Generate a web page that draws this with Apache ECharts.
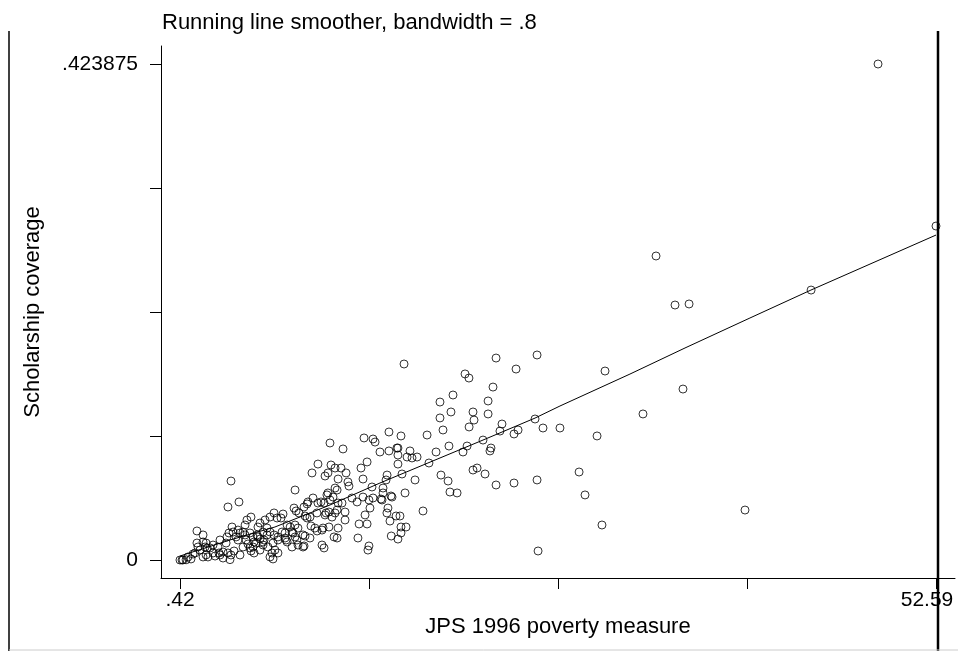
<!DOCTYPE html>
<html>
<head>
<meta charset="utf-8">
<script src="https://cdn.jsdelivr.net/npm/echarts@6/dist/echarts.min.js"></script>
<style>html,body{margin:0;padding:0;background:#fff}#c{width:958px;height:651px}</style>
</head>
<body>
<div id="c"></div>
<script>
// JPS 1996 poverty measure (x) and scholarship coverage (y)
var povertyX = [48.59,52.59,33.27,34.58,35.55,43.97,35.13,32.37,39.41,29.75,29.20,26.64,27.96,28.37,29.54,25.13,25.06,22.23,23.61,15.88,
20.09,20.36,22.02,19.26,18.36,21.68,19.12,18.36,20.64,20.71,21.68,20.37,18.57,22.64,22.50,23.47,23.75,24.92,25.47,17.47,
14.84,15.67,21.33,18.98,20.23,19.95,21.88,21.81,18.09,17.60,18.43,18.92,20.64,20.92,21.47,16.64,15.74,14.71,14.64,15.95,
19.05,19.54,22.23,23.47,25.06,17.19,15.46,15.39,14.84,15.46,16.09,16.29,16.43,16.78,15.46,14.43,14.43,14.36,14.98,15.05,
14.77,14.70,15.33,15.60,14.91,15.67,16.02,15.00,15.67,15.46,10.77,11.67,13.12,13.74,13.88,14.22,3.94,3.73,4.49,8.36,
9.94,9.53,10.84,11.12,11.53,11.88,10.43,10.63,11.33,12.01,12.08,12.91,13.33,13.05,12.29,12.64,13.05,13.46,13.74,14.29,
13.67,13.33,12.78,12.70,13.46,13.39,11.81,11.33,10.36,10.70,10.29,9.46,9.88,10.22,11.05,8.91,8.98,8.22,8.36,8.98,
9.19,9.25,9.60,8.29,8.43,10.15,10.36,10.77,10.98,10.50,10.70,10.43,10.91,9.05,9.19,9.39,7.81,8.02,8.36,8.56,
7.12,6.91,6.63,6.29,7.39,5.94,5.80,6.15,6.43,6.63,6.91,7.18,7.46,7.67,7.74,6.43,6.22,6.15,5.46,5.53,
6.77,6.84,4.56,4.01,4.08,4.42,4.56,4.77,4.91,5.04,5.32,4.91,4.29,4.42,5.25,5.46,5.53,5.67,5.74,5.80,
5.94,4.98,5.11,4.77,5.25,5.32,3.80,3.66,3.60,3.18,3.04,3.39,3.73,2.70,2.49,3.87,3.39,3.11,3.18,1.59,
2.01,1.59,1.66,1.80,1.32,1.46,2.15,2.22,2.35,2.01,2.70,2.84,0.97,1.18,0.84,0.63,0.56,0.42,2.22,2.29,
2.01,3.94,4.15,11.26,11.26,13.53,13.19,11.12,10.63,10.56,9.94,11.33,11.60,11.81,11.12,9.87,8.63,7.53,8.15,9.73,
11.26,9.39,9.05,8.49,8.56,7.67,7.81,7.18,6.84,6.49,6.15,5.94,6.97,7.18,10.22,8.91,6.63,8.15];

var coverageY = [0.423875,0.2854,0.2598,0.2179,0.2188,0.2307,0.1461,0.1248,0.0427,0.1615,0.1060,0.1128,0.0752,0.0556,0.0299,0.0077,0.1752,0.1726,0.1632,0.1675,
0.1590,0.1555,0.1478,0.1410,0.1350,0.1359,0.1265,0.1214,0.1265,0.1196,0.1248,0.1137,0.1111,0.1162,0.1102,0.1077,0.1111,0.1205,0.1128,0.1068,
0.1094,0.1060,0.1025,0.0974,0.0974,0.0923,0.0957,0.0932,0.0923,0.0829,0.0726,0.0675,0.0769,0.0786,0.0735,0.0684,0.0735,0.0726,0.0684,0.0573,
0.0581,0.0573,0.0641,0.0658,0.0684,0.0419,0.0957,0.0957,0.0932,0.0897,0.0880,0.0932,0.0872,0.0880,0.0820,0.0615,0.0573,0.0513,0.0547,0.0538,
0.0444,0.0402,0.0376,0.0376,0.0333,0.0282,0.0282,0.0205,0.0231,0.0179,0.1000,0.0949,0.1043,0.1034,0.1008,0.0923,0.0675,0.0453,0.0496,0.0598,
0.0820,0.0744,0.0812,0.0786,0.0786,0.0744,0.0718,0.0744,0.0692,0.0667,0.0632,0.0786,0.0838,0.0692,0.0530,0.0496,0.0538,0.0513,0.0530,0.0521,
0.0624,0.0308,0.0308,0.0188,0.0120,0.0085,0.0342,0.0273,0.0103,0.0282,0.0273,0.0291,0.0248,0.0256,0.0197,0.0214,0.0120,0.0231,0.0197,0.0453,
0.0479,0.0496,0.0530,0.0444,0.0419,0.0496,0.0487,0.0513,0.0538,0.0402,0.0410,0.0385,0.0367,0.0376,0.0359,0.0367,0.0299,0.0282,0.0299,0.0273,
0.0359,0.0402,0.0367,0.0342,0.0359,0.0316,0.0282,0.0239,0.0273,0.0239,0.0214,0.0197,0.0239,0.0231,0.0171,0.0214,0.0171,0.0154,0.0111,0.0060,
0.0060,0.0009,0.0043,0.0282,0.0239,0.0256,0.0231,0.0239,0.0214,0.0342,0.0367,0.0299,0.0197,0.0171,0.0231,0.0197,0.0154,0.0145,0.0214,0.0197,
0.0179,0.0171,0.0137,0.0111,0.0103,0.0077,0.0231,0.0197,0.0145,0.0171,0.0111,0.0068,0.0060,0.0128,0.0103,0.0003,0.0017,0.0060,0.0043,0.0248,
0.0214,0.0145,0.0111,0.0085,0.0051,0.0060,0.0111,0.0043,0.0026,0.0026,0.0060,0.0034,0.0026,0.0009,0.0002,0.0001,0.0000,0.0000,0.0145,0.0103,
0.0154,0.0043,0.0077,0.0598,0.0427,0.0444,0.0385,0.0615,0.0573,0.0556,0.0487,0.0487,0.0487,0.0410,0.0402,0.0402,0.0402,0.0393,0.0239,0.0273,
0.0188,0.0188,0.0205,0.0171,0.0128,0.0188,0.0154,0.0171,0.0145,0.0111,0.0128,0.0085,0.0085,0.0060,0.0128,0.0111,0.0026,0.0111];

// running line smoother (bandwidth .8)
var smoothX = [0.42, 3.87, 6.97, 10.77, 14.22, 17.53, 21.33, 24.92, 26.64, 31.47, 35.27, 39.75, 43.96, 52.59];
var smoothY = [0.0034, 0.0171, 0.0282, 0.0470, 0.0658, 0.0829, 0.1025, 0.1213, 0.1316, 0.1589, 0.1812, 0.2068, 0.2307, 0.2777];

// axis ticks and labels
var xTicks = [0.42, 13.4625, 26.505, 39.5475, 52.59];
var xLabels = [0.42, 52.59];
var yTicks = [0, 0.10596875, 0.2119375, 0.31790625, 0.423875];
var yLabels = [0, 0.423875];

var FONT = "'Liberation Sans', Arial, Helvetica, sans-serif";
var scatterData = povertyX.map(function (x, i) { return [x, coverageY[i]]; });
var lineData = smoothX.map(function (x, i) { return [x, smoothY[i]]; });

var chart = echarts.init(document.getElementById('c'), null, { renderer: 'canvas' });
chart.setOption({
  animation: false,
  backgroundColor: '#fff',
  title: {
    text: 'Running line smoother, bandwidth = .8',
    left: 157, top: 7,
    textStyle: { fontFamily: FONT, fontSize: 22, fontWeight: 'normal', color: '#000' }
  },
  grid: { left: 161, top: 46, right: 3, bottom: 73 },
  xAxis: {
    type: 'value', min: -0.891, max: 53.901,
    axisLine: { onZero: false, lineStyle: { color: '#000', width: 1 } },
    axisTick: { length: 11, customValues: xTicks, lineStyle: { color: '#000' } },
    axisLabel: {
      customValues: xLabels, margin: 12, color: '#000', fontFamily: FONT, fontSize: 21,
      formatter: function (v) { return v === 52.59 ? '{r|52.59}' : '.42'; },
      rich: { r: { fontFamily: FONT, fontSize: 21, color: '#000', padding: [0, 18, 0, 0] } }
    },
    splitLine: { show: false },
    name: 'JPS 1996 poverty measure', nameLocation: 'middle', nameGap: 33,
    nameTextStyle: { fontFamily: FONT, fontSize: 22, color: '#000' }
  },
  yAxis: {
    type: 'value', min: -0.01538, max: 0.43926,
    axisLine: { onZero: false, lineStyle: { color: '#000', width: 1 } },
    axisTick: { length: 11, customValues: yTicks, lineStyle: { color: '#000' } },
    axisLabel: {
      customValues: yLabels, margin: 23, color: '#000', fontFamily: FONT, fontSize: 21,
      formatter: function (v) { return v === 0 ? '0' : '.423875'; }
    },
    splitLine: { show: false },
    name: 'Scholarship coverage', nameLocation: 'middle', nameGap: 117,
    nameTextStyle: { fontFamily: FONT, fontSize: 22, color: '#000' }
  },
  graphic: [
    { type: 'line', shape: { x1: 9, y1: 31, x2: 9, y2: 651 }, style: { stroke: '#000', lineWidth: 1.5 }, silent: true },
    { type: 'line', shape: { x1: 938, y1: 31, x2: 938, y2: 651 }, style: { stroke: '#000', lineWidth: 2.5 }, silent: true },
    { type: 'line', shape: { x1: 9, y1: 650, x2: 958, y2: 650 }, style: { stroke: '#ccc', lineWidth: 1 }, silent: true }
  ],
  series: [
    {
      type: 'scatter', data: scatterData, symbol: 'circle', symbolSize: 8,
      itemStyle: { color: 'rgba(0,0,0,0)', borderColor: '#000', borderWidth: 1 },
      emphasis: { disabled: true }, z: 3
    },
    {
      type: 'line', data: lineData, showSymbol: false, symbol: 'none', smooth: false,
      lineStyle: { color: '#000', width: 1 }, emphasis: { disabled: true }, z: 2
    }
  ]
});
</script>
</body>
</html>
